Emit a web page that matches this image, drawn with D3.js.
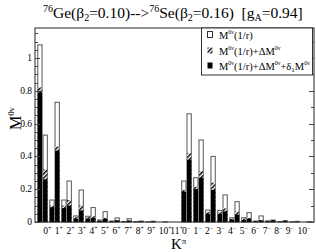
<!DOCTYPE html>
<html>
<head>
<meta charset="utf-8">
<title>M0v K-pi</title>
<style>
body { margin: 0; background: #fff; }
text { font-family: "Liberation Serif", "DejaVu Serif", serif; fill: #000; }
.frame { fill: none; stroke: #222; stroke-width: 1; }
.tick { stroke: #444; stroke-width: 1; }
</style>
</head>
<body>
<script src="https://cdn.jsdelivr.net/npm/d3@7"></script>
<script>
// K^pi values, positive parity group then negative parity group
var kLabels = ["0","1","2","3","4","5","6","7","8","9","10","11","0","1","2","3","4","5","6","7","8","9","10"];
var parity  = ["+","+","+","+","+","+","+","+","+","+","+","+","-","-","-","-","-","-","-","-","-","-","-"];

// left bar of each pair
var bareA = [1.08,0.134,0.134,0.037,0.035,0.012,0.006,0.003,0.002,0.001,0,0, 0.25,0.27,0.073,0.071,0.026,0.026,0.006,0.007,0.002,0.001,0];
var dmA   = [0.82,0.10,0.10,0.03,0.03,0.01,0.005,0.002,0.002,0.001,0,0, 0.195,0.215,0.06,0.06,0.02,0.02,0.005,0.006,0.002,0.001,0];
var fullA = [0.79,0.09,0.085,0.02,0.02,0.008,0.004,0.002,0.001,0,0,0, 0.185,0.20,0.05,0.05,0.015,0.012,0.004,0.005,0.001,0,0];
// right bar of each pair
var bareB = [0.53,0.73,0.25,0.195,0.088,0.063,0.025,0.02,0.006,0.005,0.001,0, 0.66,0.50,0.40,0.165,0.124,0.057,0.037,0.012,0.008,0.004,0.001];
var dmB   = [0.32,0.46,0.134,0.10,0.035,0.025,0.012,0.01,0.004,0.003,0,0, 0.42,0.31,0.24,0.083,0.063,0.025,0.012,0.012,0.008,0.002,0];
var fullB = [0.26,0.435,0.10,0.07,0.025,0.02,0.01,0.008,0.003,0.002,0,0, 0.38,0.27,0.195,0.065,0.045,0.02,0.01,0.01,0.007,0.001,0];

var yMajor = [0,0.2,0.4,0.6,0.8,1];
var yTickText = ["0","0.2","0.4","0.6","0.8","1"];

var width = 316, height = 252;
var pL = 35, pR = 314, pT = 28, pB = 222;

var svg = d3.select("body").append("svg")
	.attr("width", width)
	.attr("height", height);

var defs = svg.append("defs");
var pat = defs.append("pattern")
	.attr("id","hatch")
	.attr("patternUnits","userSpaceOnUse")
	.attr("width",3).attr("height",3)
	.attr("patternTransform","rotate(45)");
pat.append("rect").attr("width",3).attr("height",3).attr("fill","#fff");
pat.append("rect").attr("width",1.5).attr("height",3).attr("fill","#000");

var idx = d3.range(kLabels.length);
var x = d3.scaleBand()
	.domain(idx)
	.range([pL, pR])
	.paddingInner(0.12)
	.paddingOuter(0.19);
var xLab = d3.scalePoint()
	.domain(idx)
	.range([43.3, 297.4]);
var y = d3.scaleLinear()
	.domain([0, 1.183])
	.range([pB, pT]);

var bw = x.bandwidth() / 2;

// bars: hollow, then hatched, then black
function drawBars(vals, off, fill, stroke) {
	svg.append("g").selectAll("rect")
		.data(idx.filter(function(i){ return vals[i] > 0; }))
		.enter()
		.append("rect")
		.attr("x", function(i){ return x(i) + off*bw + 0.5; })
		.attr("y", function(i){ return y(vals[i]); })
		.attr("width", bw - 1)
		.attr("height", function(i){ return y(0) - y(vals[i]); })
		.attr("fill", fill)
		.attr("stroke", stroke)
		.attr("stroke-width", stroke == "none" ? 0 : 1);
}
drawBars(bareA, 0, "#fff", "#555");
drawBars(bareB, 1, "#fff", "#555");
drawBars(dmA, 0, "url(#hatch)", "none");
drawBars(dmB, 1, "url(#hatch)", "none");
drawBars(fullA, 0, "#000", "none");
drawBars(fullB, 1, "#000", "none");

// frame
svg.append("rect").attr("class","frame")
	.attr("x", pL).attr("y", pT)
	.attr("width", pR-pL).attr("height", pB-pT);

// y ticks
var minor = d3.range(0, 1.181, 0.05);
svg.append("g").selectAll("line")
	.data(minor).enter().append("line")
	.attr("class","tick")
	.attr("x1", pL)
	.attr("x2", function(d){ return Math.abs(d*5 - Math.round(d*5)) < 1e-6 ? pL+5 : pL+3; })
	.attr("y1", function(d){ return Math.round(y(d))+0.5; })
	.attr("y2", function(d){ return Math.round(y(d))+0.5; });
svg.append("g").selectAll("line")
	.data(d3.range(0, 1.181, 0.1)).enter().append("line")
	.attr("class","tick")
	.attr("x1", pR)
	.attr("x2", function(d){ return Math.abs(d*5 - Math.round(d*5)) < 1e-6 ? pR-5 : pR-3; })
	.attr("y1", function(d){ return Math.round(y(d))+0.5; })
	.attr("y2", function(d){ return Math.round(y(d))+0.5; });

svg.append("g").selectAll("text")
	.data(yMajor).enter().append("text")
	.attr("x", 32)
	.attr("y", function(d){ return y(d) + 3; })
	.attr("text-anchor","end")
	.attr("font-size", 9.5)
	.text(function(d,i){ return yTickText[i]; });

// x tick labels
var xl = svg.append("g").selectAll("text")
	.data(idx).enter().append("text")
	.attr("x", function(i){ return xLab(i); })
	.attr("y", 234)
	.attr("font-size", 9.5);
xl.append("tspan").text(function(i){ return kLabels[i]; });
xl.append("tspan")
	.attr("dy", -4)
	.attr("font-size", 6)
	.text(function(i){ return parity[i] == "+" ? "+" : "\u2212"; });

// axis titles
var xt = svg.append("text").attr("x", 171).attr("y", 249).attr("font-size", 15);
xt.append("tspan").text("K");
xt.append("tspan").attr("dy", -5).attr("font-size", 9).text("\u03c0");

var yt = svg.append("text")
	.attr("transform","translate(21,130) rotate(-90)")
	.attr("font-size", 16);
yt.append("tspan").text("M");
yt.append("tspan").attr("dy", -7).attr("font-size", 9).text("0\u03bd");

// title
var t = svg.append("text").attr("x", 43).attr("y", 18).attr("font-size", 15.5);
t.append("tspan").attr("dy", -6).attr("font-size", 10).text("76");
t.append("tspan").attr("dy", 6).text("Ge(\u03b2");
t.append("tspan").attr("dy", 3).attr("font-size", 10).text("2");
t.append("tspan").attr("dy", -3).text("=0.10)-->");
t.append("tspan").attr("dy", -6).attr("font-size", 10).text("76");
t.append("tspan").attr("dy", 6).text("Se(\u03b2");
t.append("tspan").attr("dy", 3).attr("font-size", 10).text("2");
t.append("tspan").attr("dy", -3).text("=0.16)\u00a0\u00a0[g");
t.append("tspan").attr("dy", 3).attr("font-size", 10).text("A");
t.append("tspan").attr("dy", -3).text("=0.94]");

// legend
var lg = svg.append("g");
lg.append("rect")
	.attr("x", 201.5).attr("y", pT).attr("width", pR - 201.5 - 1.5).attr("height", 47)
	.attr("fill","#fff").attr("stroke","#333").attr("stroke-width",1);
var legFill = ["#fff", "url(#hatch)", "#000"];
var legRows = [35, 51, 66];
lg.selectAll(".sym").data(legFill).enter().append("rect")
	.attr("class","sym")
	.attr("x", 207.5)
	.attr("y", function(d,i){ return legRows[i] - 3.5; })
	.attr("width", 5).attr("height", 6)
	.attr("fill", function(d){ return d; })
	.attr("stroke", function(d,i){ return i == 0 ? "#333" : "none"; });
function legText(row, parts) {
	var tx = lg.append("text").attr("x", 219).attr("y", legRows[row] + 3.5).attr("font-size", 10.5);
	parts.forEach(function(p){
		var s = tx.append("tspan").text(p[0]);
		if (p[1]) s.attr("dy", p[1]);
		if (p[2]) s.attr("font-size", p[2]);
	});
}
legText(0, [["M"],["0\u03bd",-5,6],["(1/r)",5]]);
legText(1, [["M"],["0\u03bd",-5,6],["(1/r)+\u0394M",5],["0\u03bd",-5,6]]);
legText(2, [["M"],["0\u03bd",-5,6],["(1/r)+\u0394M",5],["0\u03bd",-5,6],["+\u03b4",5],["1",2,7],["M",-2],["0\u03bd",-5,6]]);
</script>
</body>
</html>
